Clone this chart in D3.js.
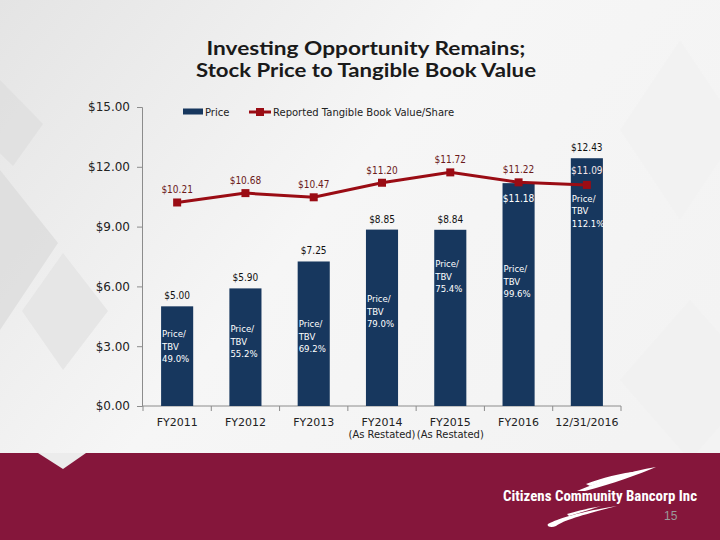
<!DOCTYPE html>
<html>
<head>
<meta charset="utf-8">
<script src="https://cdn.jsdelivr.net/npm/d3@7"></script>
<style>
html,body{margin:0;padding:0;background:#f2f2f2;}
svg{display:block;}
</style>
</head>
<body>
<svg id="chart" width="720" height="540"></svg>
<script>
// ---- data ----
const categories = ["FY2011","FY2012","FY2013","FY2014","FY2015","FY2016","12/31/2016"];
const categorySubLabels = ["","","","(As Restated)","(As Restated)","",""];
const priceValues = [5.00, 5.90, 7.25, 8.85, 8.84, 11.18, 12.43];
const tbvValues = [10.21, 10.68, 10.47, 11.20, 11.72, 11.22, 11.09];
const ratioLabels = ["49.0%","55.2%","69.2%","79.0%","75.4%","99.6%","112.1%"];
const yTickValues = [0, 3, 6, 9, 12, 15];
const seriesNames = ["Price", "Reported Tangible Book Value/Share"];
const titleLines = ["Investing Opportunity Remains;", "Stock Price to Tangible Book Value"];

// layout-only: vertical level (in $) where the Price/TBV note sits in each bar
const ratioNoteLevel = [3.0, 3.25, 3.5, 4.75, 6.5, 6.25, 9.8];

const svg = d3.select("#chart");
const W = 720, H = 540;
const plot = {left: 143, right: 621, top: 107, bottom: 406};

const navy = "#17375e", red = "#9a0c14", maroon = "#85163b";
const cond = "'DejaVu Sans Condensed','DejaVu Sans',sans-serif";
const dv = "'DejaVu Sans',sans-serif";

// ---- background ----
const defs = svg.append("defs");
const bg = defs.append("linearGradient").attr("id","bg").attr("x1","0").attr("y1","0").attr("x2","1").attr("y2","0.6");
bg.append("stop").attr("offset","0").attr("stop-color","#e4e4e4");
bg.append("stop").attr("offset","0.5").attr("stop-color","#f6f6f6");
bg.append("stop").attr("offset","1").attr("stop-color","#f3f3f3");
svg.append("rect").attr("width",W).attr("height",H).attr("fill","url(#bg)");

const diamonds = [
  {pts:[[43,124],[13,166],[-30,124],[0,80]], fill:"#dedede"},
  {pts:[[58,243],[0,330],[-58,243],[0,170]], fill:"#dcdcdc"},
  {pts:[[63,253],[108,311],[63,370],[22,311]], fill:"#e3e3e3"},
  {pts:[[680,40],[740,130],[680,220],[620,130]], fill:"#f1f1f1"},
  {pts:[[690,300],[760,380],[690,460],[620,380]], fill:"#f0f0f0"}
];
svg.append("g").selectAll("polygon").data(diamonds).join("polygon")
  .attr("points", d => d.pts.map(p => p.join(",")).join(" "))
  .attr("fill", d => d.fill).attr("opacity",0.8);

// ---- footer ----
svg.append("rect").attr("x",0).attr("y",453).attr("width",W).attr("height",H-453).attr("fill",maroon);
svg.append("polygon").attr("points","38,453 86,453 63,469").attr("fill","#ececec");

// logo
const logo = svg.append("g");
logo.append("path").attr("d","M577,491 C603,480 630,471 656,467 C640,474 612,484 585,491 Z").attr("fill","#fff");
logo.append("path").attr("d","M586,484 C602,478 620,473 640,471 C622,476 604,481 590,486 Z").attr("fill","#fff");
logo.append("path").attr("d","M548,524 C556,520 572,513 617,506 C586,514 564,520 556,526 C552,528 546,527 548,524 Z").attr("fill","#fff");
logo.append("path").attr("d","M567,514 C580,510 592,508 601,506 C590,510 578,513 569,516 Z").attr("fill","#fff");
logo.append("text").attr("x",503).attr("y",501)
  .attr("font-family","'Liberation Sans Narrow','Roboto Condensed','Liberation Sans',sans-serif")
  .attr("font-weight","bold").attr("font-size",15).attr("fill","#fff")
  .attr("textLength",194).attr("lengthAdjust","spacingAndGlyphs")
  .text("Citizens Community Bancorp Inc");
svg.append("text").attr("x",664).attr("y",520).attr("font-family","'Liberation Sans Narrow','Liberation Sans',sans-serif")
  .attr("font-size",12).attr("fill","#9a9a9a").text("15");

// ---- title ----
const titleWidths = [319, 340];
svg.append("g").selectAll("text").data(titleLines).join("text")
  .attr("x",366).attr("y",(d,i)=>55+i*22).attr("text-anchor","middle")
  .attr("font-family","Lato,'Open Sans',sans-serif").attr("font-weight","bold")
  .attr("font-size",18).attr("fill","#1a1a1a")
  .attr("textLength",(d,i)=>titleWidths[i]).attr("lengthAdjust","spacingAndGlyphs")
  .text(d=>d);

// ---- scales ----
const x = d3.scaleBand().domain(categories).range([plot.left, plot.right]).paddingInner(0.53).paddingOuter(0.265);
const y = d3.scaleLinear().domain([0,15]).range([plot.bottom, plot.top]);
const cx = c => x(c) + x.bandwidth()/2;

// ---- y axis ----
const yAxis = svg.append("g").attr("transform",`translate(${plot.left-1},0)`)
  .call(d3.axisLeft(y).tickValues(yTickValues).tickSize(5).tickPadding(7).tickFormat(d => "$" + d.toFixed(2)));
yAxis.select(".domain").attr("stroke","#8c8c8c");
yAxis.selectAll(".tick line").attr("stroke","#8c8c8c");
yAxis.selectAll("text").attr("font-family",dv).attr("font-size",12).attr("fill","#222");

// ---- x axis ----
const xAxis = svg.append("g").attr("transform",`translate(0,${plot.bottom})`)
  .call(d3.axisBottom(x).tickSize(0).tickPadding(12));
xAxis.select(".domain").attr("stroke","#8c8c8c").attr("d",`M${plot.left-1},0H${plot.right}`);
xAxis.selectAll("text").attr("font-family",dv).attr("font-size",11).attr("fill","#222");
const step = x.step();
const boundaries = categories.map(c => x(c) - (step - x.bandwidth())/2).concat([plot.right]);
xAxis.selectAll("line.bnd").data(boundaries).join("line").attr("class","bnd")
  .attr("x1",d=>d).attr("x2",d=>d).attr("y1",0).attr("y2",5).attr("stroke","#8c8c8c");
svg.append("g").selectAll("text").data(categories.filter((c,i)=>categorySubLabels[i]))
  .join("text").attr("x",c=>cx(c)).attr("y",438).attr("text-anchor","middle")
  .attr("font-family",dv).attr("font-size",10).attr("fill","#222")
  .attr("textLength",67).attr("lengthAdjust","spacingAndGlyphs")
  .text(c => categorySubLabels[categories.indexOf(c)]);

// ---- bars ----
svg.append("g").selectAll("rect").data(categories).join("rect")
  .attr("x",c=>x(c)).attr("width",x.bandwidth())
  .attr("y",(c,i)=>y(priceValues[i])).attr("height",(c,i)=>plot.bottom-y(priceValues[i]))
  .attr("fill",navy);

// price labels (last-but-one sits inside the bar)
svg.append("g").selectAll("text").data(categories).join("text")
  .attr("x",c=>cx(c)).attr("text-anchor","middle")
  .attr("y",(c,i)=> i===5 ? y(priceValues[i]) + 19 : y(priceValues[i]) - 7)
  .attr("font-family",cond).attr("font-size",10)
  .attr("fill",(c,i)=> i===5 ? "#fff" : "#111")
  .text((c,i)=>"$"+priceValues[i].toFixed(2));

// ratio notes
const notes = svg.append("g").selectAll("text").data(categories).join("text")
  .attr("x",c=>x(c)+1).attr("y",(c,i)=>y(ratioNoteLevel[i]) - 9)
  .attr("font-family",cond).attr("font-size",9.5).attr("fill","#fff");
notes.selectAll("tspan").data((c,i)=>["Price/","TBV",ratioLabels[i]]).join("tspan")
  .attr("x",function(){return d3.select(this.parentNode).attr("x");})
  .attr("dy",(d,j)=> j===0 ? 0 : 12.5).text(d=>d);

// ---- line ----
const line = d3.line().x((d,i)=>cx(categories[i])).y(d=>y(d));
svg.append("path").datum(tbvValues).attr("d",line).attr("fill","none").attr("stroke",red).attr("stroke-width",3);
svg.append("g").selectAll("rect").data(tbvValues).join("rect")
  .attr("x",(d,i)=>cx(categories[i])-4).attr("y",d=>y(d)-4).attr("width",8).attr("height",8).attr("fill",red);
svg.append("g").selectAll("text").data(tbvValues).join("text")
  .attr("x",(d,i)=>cx(categories[i])).attr("y",(d,i)=> i===6 ? y(d)-11 : y(d)-9).attr("text-anchor","middle")
  .attr("font-family",cond).attr("font-size",10)
  .attr("fill",(d,i)=> i===6 ? "#f4e6e8" : "#6b1a1a")
  .text(d=>"$"+d.toFixed(2));

// ---- legend ----
const leg = svg.append("g");
leg.append("rect").attr("x",183).attr("y",108.5).attr("width",20).attr("height",6).attr("fill",navy);
leg.append("text").attr("x",205).attr("y",116).attr("font-family",dv).attr("font-size",10).attr("fill","#222").text(seriesNames[0]);
leg.append("line").attr("x1",249).attr("x2",271).attr("y1",112).attr("y2",112).attr("stroke",red).attr("stroke-width",3);
leg.append("rect").attr("x",256).attr("y",108).attr("width",8).attr("height",8).attr("fill",red);
leg.append("text").attr("x",273).attr("y",116).attr("font-family",dv).attr("font-size",10).attr("fill","#222").text(seriesNames[1]);
</script>
</body>
</html>
